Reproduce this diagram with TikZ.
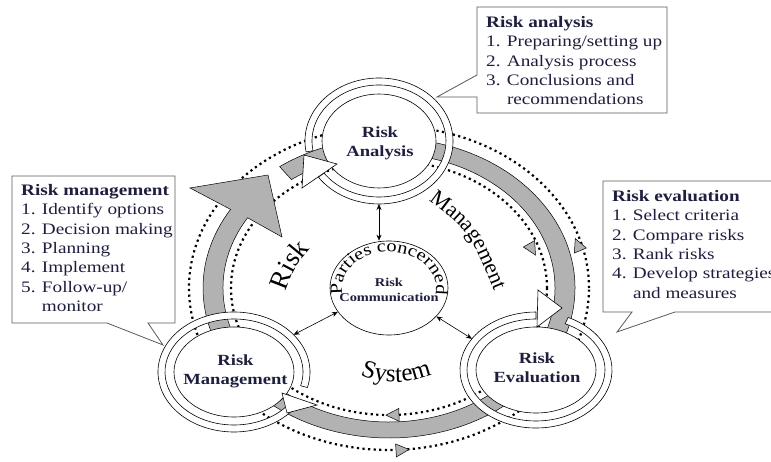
\documentclass[tikz,border=0pt]{standalone}
\usepackage{fontspec}
\setmainfont{Liberation Serif}[FakeStretch=1.2]
\newfontfamily\curvefont{Liberation Serif}
\usetikzlibrary{arrows.meta,positioning,shapes.geometric,calc,decorations.text}
\definecolor{bandgray}{RGB}{178,178,178}
\definecolor{inkblue}{RGB}{30,30,62}
\definecolor{boxgray}{RGB}{90,90,90}

\begin{document}
\begin{tikzpicture}[x=1pt, y=1pt,
  ringband/.style={fill=white, draw=black, line width=0.6pt},
  whitehead/.style={fill=white, draw=black, line width=0.6pt},
  band/.style={fill=bandgray, draw=black, line width=0.5pt},
  dots/.style={line width=2.2pt, dash pattern=on 2.2pt off 3.4pt},
  smallhead/.style={fill=bandgray, draw=black, line width=0.5pt},
  ringin/.style={ellipse, draw, fill=white, line width=0.6pt, inner sep=0pt},
  ringout/.style={ellipse, inner sep=0pt, outer sep=0pt},
  nodetext/.style={font=\fontsize{15.5}{19}\selectfont\bfseries, text=inkblue, align=center},
  boxtext/.style={font=\fontsize{16}{19.4}\selectfont, text=inkblue, align=left, anchor=north west, inner sep=0pt},
  boxline/.style={draw=boxgray, line width=0.8pt, fill=white},
  dbl/.style={{Stealth[length=6pt,width=5pt]}-{Stealth[length=6pt,width=5pt]}, line width=0.6pt},
  curved/.style={decorate, decoration={text along path, text align=center, text color=black}}
]
\useasboundingbox (-389,-174) rectangle (382,288);
\clip (-389,-174) rectangle (382,288);

% dotted loops
\draw[dots] (0,0) ellipse [x radius=200, y radius=162];
\draw[dots] (0,0) ellipse [x radius=158, y radius=127];
\foreach \px/\py/\ang in {4/-127/181, 13/-162/4, 143/39/-60, 189/43/113}
  \draw[smallhead, shift={(\px,\py)}, rotate=\ang] (7,0) -- (-6,6.5) -- (-6,-6.5) -- cycle;

% gray loop with big head
\draw[band] (126:186 and 150) arc[start angle=126, end angle=-211.6, x radius=186, y radius=150]
  -- (-199,100) -- (-121,113) -- (-107,51) -- (-211.6:166 and 134)
  arc[start angle=-211.6, end angle=126, x radius=166, y radius=134] -- cycle;

% Risk Analysis
\begin{scope}[shift={(-10,147)}]
  \draw[ringband] (190:74 and 63) arc[start angle=190, end angle=-145, x radius=74, y radius=63]
    -- (-145:67 and 56) arc[start angle=-145, end angle=190, x radius=67, y radius=56] -- cycle;
\end{scope}
\node[ringout, minimum width=148, minimum height=126] (ra) at (-10,147) {};
\node[ringin, minimum width=114, minimum height=94] (raIn) at (-10,147) {};
\begin{scope}[shift={(-10,147)}]
  \draw[whitehead] (-75,-14) -- (-42,-23) -- (-77,-47) -- cycle;
\end{scope}
\node[nodetext] at (-9,145) {Risk\\Analysis};

% Risk Evaluation
\begin{scope}[shift={(147,-82)}]
  \draw[ringband] (65:76 and 58) arc[start angle=65, end angle=-270, x radius=76, y radius=58]
    -- (90:69 and 51) arc[start angle=-270, end angle=65, x radius=69, y radius=51] -- cycle;
\end{scope}
\node[ringout, minimum width=152, minimum height=116] (re) at (147,-82) {};
\node[ringin, minimum width=120, minimum height=86] (reIn) at (147,-82) {};
\begin{scope}[shift={(147,-82)}]
  \draw[whitehead] (2,80) -- (26,62) -- (1,43) -- cycle;
\end{scope}
\node[nodetext] at (148,-80) {Risk\\Evaluation};

% Risk Management
\begin{scope}[shift={(-155,-84)}]
  \draw[ringband] (-375:76 and 60) arc[start angle=-375, end angle=-38, x radius=76, y radius=60]
    -- (-38:69 and 53) arc[start angle=-38, end angle=-375, x radius=69, y radius=53] -- cycle;
\end{scope}
\node[ringout, minimum width=152, minimum height=120] (rm) at (-155,-84) {};
\node[ringin, minimum width=120, minimum height=90] (rmIn) at (-155,-84) {};
\begin{scope}[shift={(-155,-84)}]
  \draw[whitehead] (48,-21) -- (83,-33) -- (53,-41) -- cycle;
\end{scope}
\node[nodetext] at (-153.5,-83) {Risk\\Management};

% parties concerned
\node[ringin, minimum width=118, minimum height=94] (pc) at (0,0) {};
\node[font=\fontsize{12}{15}\selectfont\bfseries, text=inkblue, align=center] (comm) at (0,-2) {Risk\\Communication};
\path[curved, decoration={text={|\fontsize{17}{17}\selectfont|Parties concerned}}]
  (195:47 and 36) arc[start angle=195, end angle=-15, x radius=47, y radius=36];

% curved words
\path[curved, decoration={text={|\curvefont\fontsize{27}{27}\selectfont|Risk}}]
  (-107,-14) .. controls (-95,20) .. (-71,48);
\path[curved, decoration={text={|\curvefont\fontsize{22}{22}\selectfont|Management}}]
  (34,92) .. controls (80,58) .. (108,-10);
\path[curved, decoration={text={|\curvefont\fontsize{25}{25}\selectfont|System}}]
  ($(7,0)+(240:94)$) arc[start angle=240, end angle=300, radius=94];

% links to the parties
\draw[dbl] (ra.south) -- (ra.south |- pc.north);
\draw[dbl] (rm.32) -- (pc.205);
\draw[dbl] (re.154) -- (pc.-31);

% callouts
\draw[boxline] (88,281) -- (278,281) -- (278,175) -- (88,175) -- (88,191) -- (48,191) -- (88,213) -- cycle;
\node[boxtext] (raBox) at (97,272) {\textbf{Risk analysis}\\1. Preparing/setting up\\2. Analysis process\\3. Conclusions and\\\hphantom{3. }recommendations};

\draw[boxline] (-377,112) -- (-214,112) -- (-214,-35) -- (-241,-35) -- (-226,-57) -- (-282,-35) -- (-377,-35) -- cycle;
\node[boxtext] (rmBox) at (-368,104) {\textbf{Risk management}\\1. Identify options\\2. Decision making\\3. Planning\\4. Implement\\5. Follow-up/\\\hphantom{5. }monitor};

\draw[boxline] (214,107) -- (411,107) -- (411,-24) -- (286,-24) -- (228,-44) -- (243,-24) -- (214,-24) -- cycle;
\node[boxtext] (reBox) at (223,98) {\textbf{Risk evaluation}\\1. Select criteria\\2. Compare risks\\3. Rank risks\\4. Develop strategies\\\hphantom{4. }and measures};
\end{tikzpicture}
\end{document}
